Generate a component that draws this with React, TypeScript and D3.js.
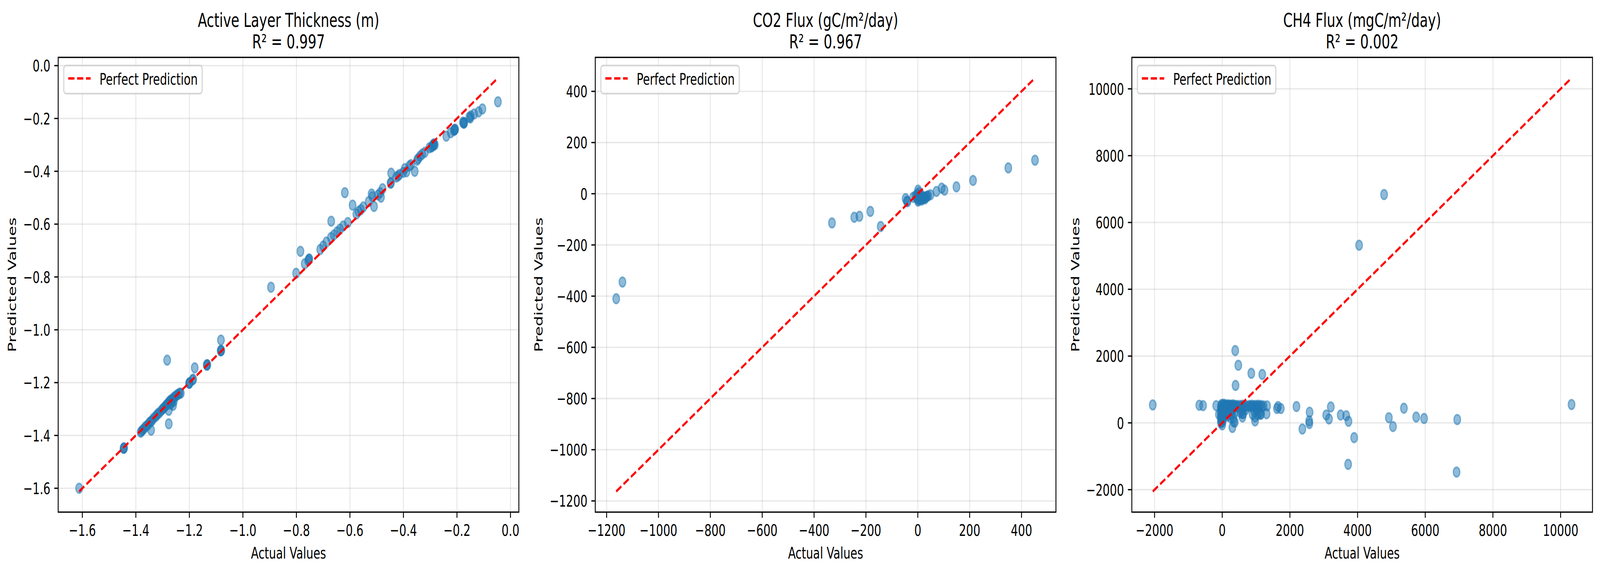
import * as d3 from 'd3';

// ---- data ----
const altActual = [
  -0.047, -0.105, -0.119, -0.136, -0.148, -0.154, -0.15, -0.174, -0.175, -0.173, -0.178,
  -0.208, -0.209, -0.207, -0.212, -0.223, -0.24, -0.285, -0.289, -0.292, -0.295, -0.287,
  -0.283, -0.303, -0.32, -0.33, -0.338, -0.345, -0.349, -0.358, -0.372, -0.378, -0.389,
  -0.395, -0.401, -0.415, -0.42, -0.427, -0.446, -0.448, -0.447, -0.478, -0.487, -0.484,
  -0.495, -0.51, -0.516, -0.519, -0.53, -0.55, -0.559, -0.568, -0.576, -0.59, -0.619,
  -0.608, -0.625, -0.637, -0.648, -0.66, -0.67, -0.671, -0.688, -0.7, -0.711, -0.752,
  -0.753, -0.756, -0.769, -0.785, -0.801, -0.895, -1.082, -1.082, -1.083, -1.081, -1.134,
  -1.135, -1.133, -1.18, -1.186, -1.188, -1.2, -1.201, -1.199, -1.283, -1.277, -1.277,
  -1.261, -1.343, -1.382, -1.379, -1.375, -1.37, -1.365, -1.36, -1.355, -1.35, -1.345,
  -1.34, -1.335, -1.328, -1.322, -1.318, -1.312, -1.305, -1.3, -1.296, -1.292, -1.288,
  -1.284, -1.28, -1.276, -1.272, -1.268, -1.264, -1.26, -1.255, -1.25, -1.245, -1.24,
  -1.236, -1.232, -1.265, -1.27, -1.258, -1.445, -1.446, -1.444, -1.612,
];
const altPredicted = [
  -0.137, -0.164, -0.175, -0.183, -0.19, -0.195, -0.198, -0.217, -0.218, -0.216, -0.214,
  -0.242, -0.243, -0.241, -0.246, -0.254, -0.267, -0.298, -0.301, -0.305, -0.308, -0.296,
  -0.3, -0.311, -0.328, -0.335, -0.343, -0.352, -0.358, -0.4, -0.375, -0.38, -0.402,
  -0.39, -0.404, -0.412, -0.418, -0.422, -0.407, -0.444, -0.445, -0.466, -0.481, -0.498,
  -0.49, -0.533, -0.496, -0.486, -0.515, -0.535, -0.545, -0.552, -0.562, -0.528, -0.481,
  -0.594, -0.607, -0.619, -0.629, -0.641, -0.589, -0.651, -0.668, -0.683, -0.696, -0.732,
  -0.733, -0.738, -0.75, -0.703, -0.786, -0.839, -1.039, -1.079, -1.08, -1.078, -1.133,
  -1.134, -1.132, -1.144, -1.187, -1.19, -1.202, -1.203, -1.2, -1.115, -1.356, -1.305,
  -1.286, -1.38, -1.388, -1.384, -1.38, -1.375, -1.368, -1.364, -1.36, -1.352, -1.348,
  -1.344, -1.336, -1.33, -1.324, -1.318, -1.314, -1.306, -1.3, -1.297, -1.292, -1.287,
  -1.283, -1.278, -1.273, -1.268, -1.266, -1.263, -1.258, -1.254, -1.25, -1.246, -1.243,
  -1.24, -1.24, -1.275, -1.282, -1.27, -1.448, -1.449, -1.447, -1.6,
];

const co2Actual = [
  -1163, -1139, -331, -245, -225, -183, -143, -47, -42, -40, -18, 1, 1, -9, -5, 0, 3, 5, 8,
  10, 12, 15, 18, 20, 22, 25, 28, 30, 33, 36, 40, -2, 4, 8, 14, 49, 72, 92, 103, 149, 213,
  349, 452,
];
const co2Predicted = [
  -410, -345, -114, -92, -88, -69, -128, -19, -29, -31, -14, 14, -29, -8, -15, -20, -25, -10,
  -18, -22, -15, -25, -20, -12, -18, -16, -20, -14, -12, -10, -8, -2, 5, -5, -5, -4, 9, 22,
  14, 27, 52, 101, 131,
];

const ch4Actual = [
  -2053, 10324, 4783, 4045, 384, 475, 859, 1183, 394, -678, -567, -178, -98,
  1326, 1310, 1132, 1650, 1731, 1617, 2194, 2368, 2582, 2570, 2575, 3074, 3155, 3209,
  3501, 3666, 3731, 3899, 3721, 4925, 5046, 5369, 5733, 5966, 6946, 6926,
  300, 372, 598, 598, 970, 970, 340,
  -40, -40, -40, -40, -40, -40, -20, -20, -20, -20, -20, -20, 0, 0, 0, 0, 0, 0, 0,
  20, 20, 20, 20, 20, 40, 40, 40, 40,
  60, 80, 100, 120, 140, 160, 180, 200, 220, 240, 260, 280, 300, 320, 340, 360, 380, 400,
  420, 440, 460, 80, 120, 160, 200, 240, 280, 320, 360, 150, 250, 330, 100, 200,
  520, 560, 600, 640, 700, 760, 800, 840, 880, 900, 940, 980, 1020, 1060, 1100, 1140, 1180,
  1220, 1000, 1050, 1100, 1150, 950, 900, 1050, 560, 620, 700, 540, 600,
];
const ch4Predicted = [
  537, 549, 6836, 5319, 2164, 1725, 1484, 1451, 1121, 527, 516, 516, 254,
  508, 274, 254, 489, 430, 430, 489, -184, 320, 58, -20, 235, 117, 477,
  235, 215, 47, -442, -1241, 154, -110, 439, 175, 131, 99, -1473,
  -137, 19, 176, 274, 58, 176, 38,
  500, 400, 300, 200, 100, 0, 550, 450, 350, 250, 150, 50, 520, 420, 320, 220, 120, 20, -60,
  480, 380, 280, 180, 80, 560, 440, 340, 240,
  520, 500, 540, 480, 520, 500, 540, 510, 490, 530, 500, 520, 480, 540, 500, 520, 470, 510,
  490, 520, 480, 420, 380, 300, 420, 350, 250, 400, 300, 200, 150, 150, 300, 250,
  520, 480, 530, 500, 510, 490, 520, 500, 530, 480, 510, 520, 490, 530, 500, 520, 480,
  510, 420, 380, 300, 270, 350, 250, 250, 350, 280, 400, 300, 420,
];

const titles = ['Active Layer Thickness (m)', 'CO2 Flux (gC/m²/day)', 'CH4 Flux (mgC/m²/day)'];
const r2Labels = ['R² = 0.997', 'R² = 0.967', 'R² = 0.002'];
const tickFormats = ['.1f', 'd', 'd'];

// ---- layout ----
const W = 5967;
const H = 1468;
const PT = 300 / 72;
const FONT = '"DejaVu Sans", sans-serif';
const FS = 10 * PT;
const AX_LEFT = [217, 2220, 4221];
const AX_W = 1718;
const AX_TOP = 147;
const AX_BOTTOM = 1312;
const BLUE = '#1f77b4';

let ctx: CanvasRenderingContext2D | null = null;
function textWidth(s: string, size: number) {
  if (!ctx) ctx = document.createElement('canvas').getContext('2d');
  if (!ctx) return s.length * size * 0.6;
  ctx.font = `${size}px "DejaVu Sans"`;
  return ctx.measureText(s).width;
}

function Panel({ idx, actual, predicted }: { idx: number; actual: number[]; predicted: number[] }) {
  const left = AX_LEFT[idx];
  const right = left + AX_W;
  const all = actual.concat(predicted);
  const lo = d3.min(all) as number;
  const hi = d3.max(all) as number;
  const pad = (hi - lo) * 0.05;

  const x = d3.scaleLinear().domain([lo - pad, hi + pad]).range([left, right]);
  const y = d3.scaleLinear().domain([lo - pad, hi + pad]).range([AX_BOTTOM, AX_TOP]);
  const fmt = d3.format(tickFormats[idx]);
  const xt = x.ticks(6);
  const yt = y.ticks(6);

  const tickLen = 3.5 * PT;
  const tickPad = 3.5 * PT;
  const maxYLabel = d3.max(yt, (t) => textWidth(fmt(t), FS)) as number;
  const ylabelX = left - tickLen - tickPad - maxYLabel - 4 * PT - 0.236 * FS;
  const cx = (left + right) / 2;

  const perfect = d3.line<number>().x((d) => x(d)).y((d) => y(d))([lo, hi]) ?? '';

  // legend
  const legText = 'Perfect Prediction';
  const lx = left + 0.5 * FS;
  const ly = AX_TOP + 0.5 * FS;
  const lw = 0.4 * FS + 2 * FS + 0.8 * FS + textWidth(legText, FS) + 0.4 * FS;
  const lh = 72;

  return (
    <g>
      {/* grid */}
      {xt.map((t) => (
        <line key={'gx' + t} x1={x(t)} x2={x(t)} y1={AX_TOP} y2={AX_BOTTOM}
          stroke="#b0b0b0" strokeOpacity={0.3} strokeWidth={0.8 * PT} />
      ))}
      {yt.map((t) => (
        <line key={'gy' + t} x1={left} x2={right} y1={y(t)} y2={y(t)}
          stroke="#b0b0b0" strokeOpacity={0.3} strokeWidth={0.8 * PT} />
      ))}

      {/* points */}
      {actual.map((a, i) => (
        <circle key={i} cx={x(a)} cy={y(predicted[i])} r={3 * PT}
          fill={BLUE} fillOpacity={0.5} stroke={BLUE} strokeOpacity={0.5} strokeWidth={1 * PT} />
      ))}

      {/* perfect prediction */}
      <path d={perfect} fill="none" stroke="#ff0000" strokeWidth={1.5 * PT}
        strokeDasharray={`${5.55 * PT},${2.4 * PT}`} />

      {/* spines */}
      <rect x={left} y={AX_TOP} width={AX_W} height={AX_BOTTOM - AX_TOP}
        fill="none" stroke="#000" strokeWidth={0.8 * PT} />

      {/* x ticks */}
      {xt.map((t) => (
        <g key={'xt' + t}>
          <line x1={x(t)} x2={x(t)} y1={AX_BOTTOM} y2={AX_BOTTOM + tickLen} stroke="#000" strokeWidth={0.8 * PT} />
          <text x={x(t)} y={1373} textAnchor="middle" fontSize={FS} fontFamily={FONT}>{fmt(t)}</text>
        </g>
      ))}
      {/* y ticks */}
      {yt.map((t) => (
        <g key={'yt' + t}>
          <line x1={left - tickLen} x2={left} y1={y(t)} y2={y(t)} stroke="#000" strokeWidth={0.8 * PT} />
          <text x={left - tickLen - tickPad} y={y(t) + 0.3645 * FS} textAnchor="end" fontSize={FS} fontFamily={FONT}>{fmt(t)}</text>
        </g>
      ))}

      {/* axis labels */}
      <text x={cx} y={1431} textAnchor="middle" fontSize={FS} fontFamily={FONT}>Actual Values</text>
      <text transform={`translate(${ylabelX},${(AX_TOP + AX_BOTTOM) / 2}) rotate(-90)`}
        textAnchor="middle" fontSize={FS} fontFamily={FONT}>Predicted Values</text>

      {/* title */}
      <text x={cx} y={69} textAnchor="middle" fontSize={12 * PT} fontFamily={FONT}>{titles[idx]}</text>
      <text x={cx} y={124} textAnchor="middle" fontSize={12 * PT} fontFamily={FONT}>{r2Labels[idx]}</text>

      {/* legend */}
      <rect x={lx} y={ly} width={lw} height={lh} rx={0.2 * FS}
        fill="#fff" fillOpacity={0.8} stroke="#cccccc" strokeOpacity={0.8} strokeWidth={1 * PT} />
      <line x1={lx + 0.4 * FS} x2={lx + 2.4 * FS} y1={ly + 33} y2={ly + 33}
        stroke="#ff0000" strokeWidth={1.5 * PT} strokeDasharray={`${5.55 * PT},${2.4 * PT}`} />
      <text x={lx + 3.2 * FS} y={ly + 49.5} fontSize={FS} fontFamily={FONT}>{legText}</text>
    </g>
  );
}

export default function App() {
  return (
    <svg viewBox={`0 0 ${W} ${H}`} preserveAspectRatio="none"
      style={{ position: 'fixed', left: 0, top: 0, width: '100vw', height: '100vh', background: '#fff', display: 'block' }}>
      <rect width={W} height={H} fill="#fff" />
      <Panel idx={0} actual={altActual} predicted={altPredicted} />
      <Panel idx={1} actual={co2Actual} predicted={co2Predicted} />
      <Panel idx={2} actual={ch4Actual} predicted={ch4Predicted} />
    </svg>
  );
}
